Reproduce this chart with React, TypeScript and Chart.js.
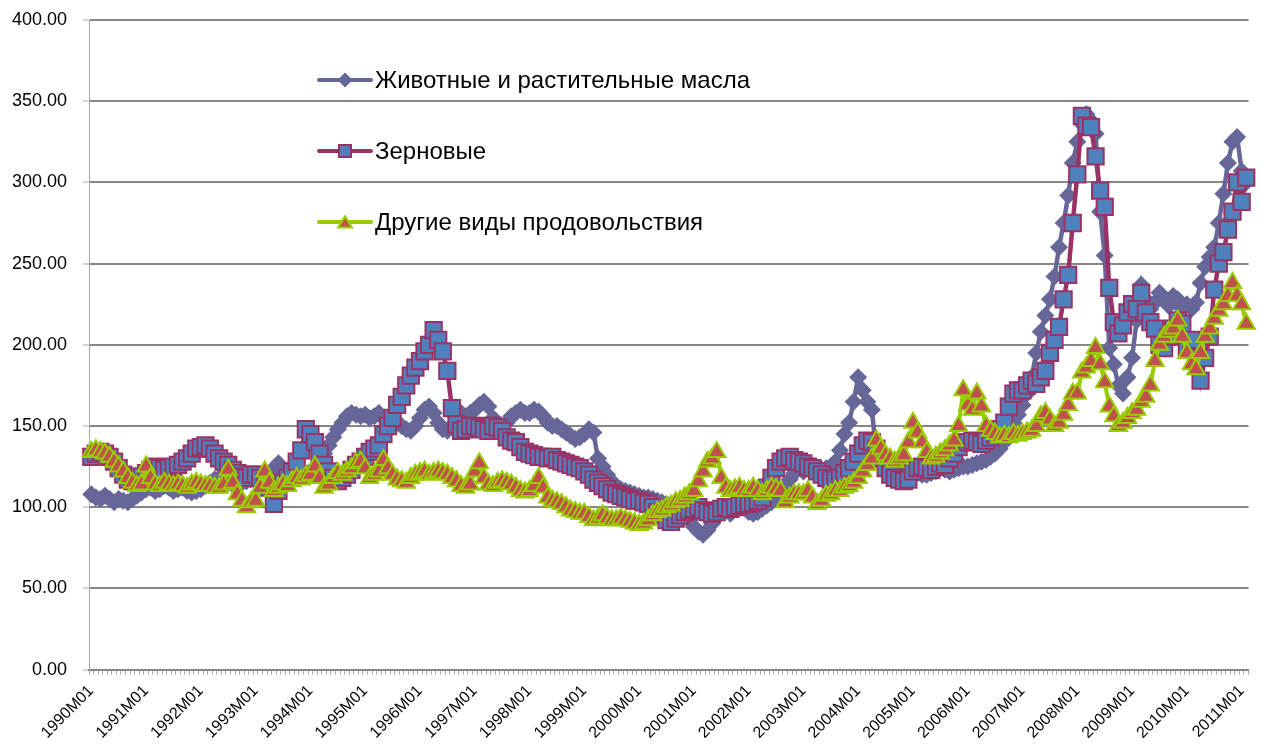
import React, { useEffect, useRef } from 'react';
import { Chart, registerables } from 'chart.js';

Chart.register(...registerables);

// ---- categories ----
const years = [1990, 1991, 1992, 1993, 1994, 1995, 1996, 1997, 1998, 1999, 2000, 2001, 2002, 2003, 2004, 2005, 2006, 2007, 2008, 2009, 2010, 2011];
const months = ['01', '02', '03', '04', '05', '06', '07', '08', '09', '10', '11', '12'];
const monthsInLastYear = 2;

const categories: string[] = [];
years.forEach((y, k) => {
  const n = k === years.length - 1 ? monthsInLastYear : 12;
  for (let m = 0; m < n; m++) categories.push(`${y}M${months[m]}`);
});

// ---- series (monthly, 1990M01 .. 2011M02) ----
const oilsLabel = 'Животные и растительные масла';
const oils = [
  108, 106, 105, 107, 105, 103, 105, 104, 103, 105, 107, 109, // 1990
  111, 112, 110, 111, 113, 112, 110, 111, 112, 110, 109, 110, // 1991
  111, 113, 115, 117, 118, 116, 115, 114, 113, 115, 116, 117, // 1992
  116, 117, 118, 121, 124, 127, 123, 120, 119, 120, 121, 121, // 1993
  122, 124, 128, 133, 138, 143, 148, 152, 156, 158, 157, 156, // 1994
  157, 155, 156, 158, 155, 152, 150, 152, 150, 148, 147, 150, // 1995
  155, 160, 162, 158, 152, 148, 147, 150, 155, 158, 156, 158, // 1996
  160, 163, 165, 162, 155, 150, 148, 152, 156, 158, 160, 158, // 1997
  158, 160, 159, 156, 152, 150, 150, 148, 146, 144, 142, 143, // 1998
  145, 148, 146, 130, 125, 120, 116, 113, 111, 110, 109, 108, // 1999
  107, 106, 106, 105, 104, 103, 102, 100, 98, 96, 94, 92,     // 2000
  88, 85, 83, 86, 90, 94, 97, 98, 96, 99, 101, 100,           // 2001
  97, 96, 97, 99, 101, 103, 105, 108, 112, 117, 121, 124,     // 2002
  122, 124, 123, 122, 123, 124, 125, 128, 135, 145, 152, 165, // 2003
  180, 172, 165, 160, 132, 128, 125, 122, 121, 123, 125, 124, // 2004
  122, 121, 120, 120, 121, 122, 124, 123, 122, 123, 124, 125, // 2005
  125, 126, 127, 128, 129, 131, 133, 136, 140, 146, 152, 157, // 2006
  163, 170, 180, 195, 208, 218, 228, 242, 260, 275, 292, 312, // 2007
  325, 336, 342, 338, 330, 282, 255, 198, 188, 175, 170, 180, // 2008
  192, 215, 237, 228, 222, 226, 232, 228, 224, 230, 228, 222, // 2009
  225, 222, 226, 238, 248, 254, 260, 275, 293, 312, 325, 328, // 2010
  307, 300,                                                   // 2011
];

const cerealsLabel = 'Зерновые';
const cereals = [
  131, 133, 134, 133, 131, 128, 124, 120, 117, 116, 117, 119, // 1990
  121, 123, 125, 124, 123, 124, 125, 126, 128, 130, 133, 136, // 1991
  137, 138, 136, 133, 130, 128, 126, 123, 121, 119, 118, 120, // 1992
  120, 118, 116, 112, 102, 110, 115, 118, 122, 128, 135, 148, // 1993
  145, 140, 133, 126, 122, 118, 116, 118, 120, 123, 126, 128, // 1994
  131, 134, 136, 138, 145, 150, 155, 163, 168, 175, 181, 186, // 1995
  190, 196, 200, 209, 203, 196, 184, 161, 151, 147, 148, 150, // 1996
  150, 149, 148, 147, 150, 149, 147, 143, 141, 140, 137, 134, // 1997
  133, 132, 131, 131, 130, 131, 129, 128, 127, 126, 125, 124, // 1998
  122, 120, 117, 115, 113, 111, 109, 108, 107, 106, 105, 104, // 1999
  104, 103, 102, 100, 97, 94, 92, 91, 93, 95, 97, 98,         // 2000
  99, 100, 98, 97, 96, 97, 99, 100, 99, 100, 101, 102,        // 2001
  102, 103, 104, 106, 112, 118, 124, 128, 130, 131, 129, 128, // 2002
  127, 125, 124, 122, 120, 118, 117, 117, 118, 121, 124, 128, // 2003
  133, 138, 141, 140, 136, 130, 124, 120, 118, 117, 116, 117, // 2004
  122, 124, 125, 124, 123, 125, 127, 126, 130, 133, 137, 140, // 2005
  140, 141, 140, 139, 141, 143, 145, 148, 152, 162, 170, 172, // 2006
  172, 175, 178, 176, 180, 184, 195, 203, 211, 228, 243, 275, // 2007
  305, 341, 335, 334, 316, 295, 285, 235, 214, 207, 212, 220, // 2008
  225, 222, 232, 220, 214, 210, 200, 198, 205, 210, 215, 213, // 2009
  198, 203, 192, 178, 192, 205, 234, 250, 257, 271, 282, 300, // 2010
  288, 303,                                                   // 2011
];

const otherLabel = 'Другие виды продовольствия';
const other = [
  134, 135, 134, 133, 131, 128, 125, 122, 118, 115, 113, 114, // 1990
  125, 118, 114, 113, 115, 114, 113, 114, 113, 112, 114, 115, // 1991
  114, 113, 113, 112, 112, 114, 123, 115, 108, 104, 100, 103, // 1992
  104, 112, 122, 115, 110, 112, 114, 113, 116, 118, 117, 119, // 1993
  120, 125, 118, 112, 114, 118, 121, 120, 122, 124, 127, 128, // 1994
  124, 118, 120, 122, 129, 124, 120, 117, 116, 115, 118, 120, // 1995
  121, 122, 120, 121, 122, 121, 120, 118, 116, 113, 112, 114, // 1996
  122, 127, 118, 114, 113, 115, 116, 115, 114, 112, 110, 109, // 1997
  110, 113, 118, 112, 106, 104, 103, 102, 100, 98, 97, 96,    // 1998
  96, 94, 92, 93, 95, 93, 92, 92, 93, 92, 91, 90,             // 1999
  89, 90, 92, 95, 97, 98, 100, 101, 103, 104, 106, 108,       // 2000
  110, 116, 122, 128, 130, 134, 118, 112, 110, 111, 112, 110, // 2001
  110, 112, 110, 108, 110, 112, 111, 110, 103, 106, 108, 108, // 2002
  108, 110, 106, 102, 104, 107, 108, 110, 110, 112, 113, 115, // 2003
  118, 122, 126, 130, 141, 136, 132, 130, 128, 130, 132, 140, // 2004
  152, 146, 140, 134, 130, 131, 133, 135, 138, 141, 150, 172, // 2005
  163, 160, 170, 162, 150, 147, 145, 143, 144, 143, 145, 144, // 2006
  145, 146, 147, 150, 156, 158, 154, 150, 152, 157, 163, 170, // 2007
  170, 183, 186, 190, 198, 188, 177, 162, 156, 150, 152, 155, // 2008
  158, 160, 165, 168, 175, 190, 200, 205, 208, 210, 215, 205, // 2009
  195, 188, 185, 195, 205, 210, 216, 221, 225, 230, 238, 230, // 2010
  225, 213,                                                   // 2011
];

const FONT = '"Liberation Sans", Arial, Helvetica, sans-serif';

type LegendItem = {
  label: string; line: string; style: string; fill: string; stroke: string; bw: number; r: number; y: number;
};

function drawMarker(ctx: CanvasRenderingContext2D, style: string, x: number, y: number, r: number, fill: string, stroke: string, bw: number) {
  ctx.beginPath();
  if (style === 'rectRot') {
    ctx.moveTo(x, y - r); ctx.lineTo(x + r, y); ctx.lineTo(x, y + r); ctx.lineTo(x - r, y); ctx.closePath();
  } else if (style === 'rect') {
    ctx.rect(x - r, y - r, 2 * r, 2 * r);
  } else {
    const h = r * 1.6;
    ctx.moveTo(x, y - h / 2); ctx.lineTo(x + r, y + h / 2); ctx.lineTo(x - r, y + h / 2); ctx.closePath();
  }
  ctx.fillStyle = fill;
  ctx.fill();
  if (bw > 0) { ctx.lineWidth = bw; ctx.strokeStyle = stroke; ctx.stroke(); }
}

const legendItems: LegendItem[] = [
  { label: oilsLabel, line: '#666699', style: 'rectRot', fill: '#666699', stroke: '#666699', bw: 0, r: 7.5, y: 80 },
  { label: cerealsLabel, line: '#993366', style: 'rect', fill: '#4F81BD', stroke: '#993366', bw: 2, r: 6, y: 151 },
  { label: otherLabel, line: '#99CC00', style: 'triangle', fill: '#C0504D', stroke: '#99CC00', bw: 2, r: 7, y: 222 },
];

const insideLegend = {
  id: 'insideLegend',
  afterDraw(chart: any) {
    const ctx: CanvasRenderingContext2D = chart.ctx;
    ctx.save();
    legendItems.forEach((it) => {
      ctx.beginPath();
      ctx.lineCap = 'round';
      ctx.lineWidth = 4;
      ctx.strokeStyle = it.line;
      ctx.moveTo(319, it.y);
      ctx.lineTo(371, it.y);
      ctx.stroke();
      drawMarker(ctx, it.style, 345, it.y, it.r, it.fill, it.stroke, it.bw);
      ctx.fillStyle = '#000';
      ctx.font = `24px ${FONT}`;
      ctx.textAlign = 'left';
      ctx.textBaseline = 'middle';
      ctx.fillText(it.label, 375, it.y + 1);
    });
    ctx.restore();
  },
};

export default function App() {
  const ref = useRef<HTMLCanvasElement>(null);

  useEffect(() => {
    if (!ref.current) return;
    const chart = new Chart(ref.current, {
      type: 'line',
      data: {
        labels: categories,
        datasets: [
          {
            label: oilsLabel,
            data: oils,
            borderColor: '#666699',
            backgroundColor: '#666699',
            borderWidth: 4.5,
            pointStyle: 'rectRot',
            pointRadius: 9,
            pointHoverRadius: 9,
            pointBackgroundColor: '#666699',
            pointBorderColor: '#666699',
            pointBorderWidth: 0,
            tension: 0,
            order: 3,
            clip: false as any,
          },
          {
            label: cerealsLabel,
            data: cereals,
            borderColor: '#993366',
            backgroundColor: '#4F81BD',
            borderWidth: 4.5,
            pointStyle: 'rect',
            pointRadius: 11.5,
            pointHoverRadius: 11.5,
            pointBackgroundColor: '#4F81BD',
            pointBorderColor: '#993366',
            pointBorderWidth: 2,
            tension: 0,
            order: 2,
            clip: false as any,
          },
          {
            label: otherLabel,
            data: other,
            borderColor: '#99CC00',
            backgroundColor: '#C0504D',
            borderWidth: 4,
            pointStyle: 'triangle',
            pointRadius: 10,
            pointHoverRadius: 10,
            pointBackgroundColor: '#C0504D',
            pointBorderColor: '#99CC00',
            pointBorderWidth: 2,
            tension: 0,
            order: 1,
            clip: false as any,
          },
        ],
      },
      options: {
        animation: false,
        responsive: false,
        devicePixelRatio: 1,
        events: [],
        layout: { padding: { left: 0, right: 10, top: 20, bottom: 0 } },
        plugins: {
          legend: { display: false },
          tooltip: { enabled: false },
          title: { display: false },
        },
        scales: {
          x: {
            type: 'category',
            offset: true,
            grid: {
              display: true,
              drawOnChartArea: false,
              drawTicks: true,
              tickLength: 5,
              color: '#A6A6A6',
              lineWidth: 1,
              offset: true,
            },
            border: { display: true, color: '#868686', width: 2 },
            ticks: {
              autoSkip: false,
              maxRotation: 45,
              minRotation: 45,
              padding: 7,
              color: '#000',
              font: { family: FONT, size: 16 },
              callback: (_v: any, i: number) => (i % 12 === 0 ? categories[i] : ''),
            },
            afterFit: (s: any) => {
              s.height = 79.4;
              s.paddingLeft = 0;
              s.paddingRight = 0;
            },
          },
          y: {
            min: 0,
            max: 400,
            grid: {
              color: '#868686',
              lineWidth: 2,
              tickLength: 6,
              tickColor: '#A6A6A6',
              tickWidth: 1,
            },
            border: { display: true, color: '#A6A6A6', width: 1 },
            ticks: {
              stepSize: 50,
              padding: 16,
              color: '#000',
              font: { family: FONT, size: 18 },
              callback: (v: any) => Number(v).toFixed(2),
            },
            afterFit: (s: any) => {
              s.width = 89;
              s.paddingTop = 0;
              s.paddingBottom = 0;
            },
          },
        },
      },
      plugins: [insideLegend],
    });
    return () => chart.destroy();
  }, []);

  return (
    <div style={{ position: 'absolute', left: 0, top: 0, width: 1262, height: 749, background: '#fff' }}>
      <canvas ref={ref} width={1262} height={749} style={{ display: 'block' }} />
    </div>
  );
}
